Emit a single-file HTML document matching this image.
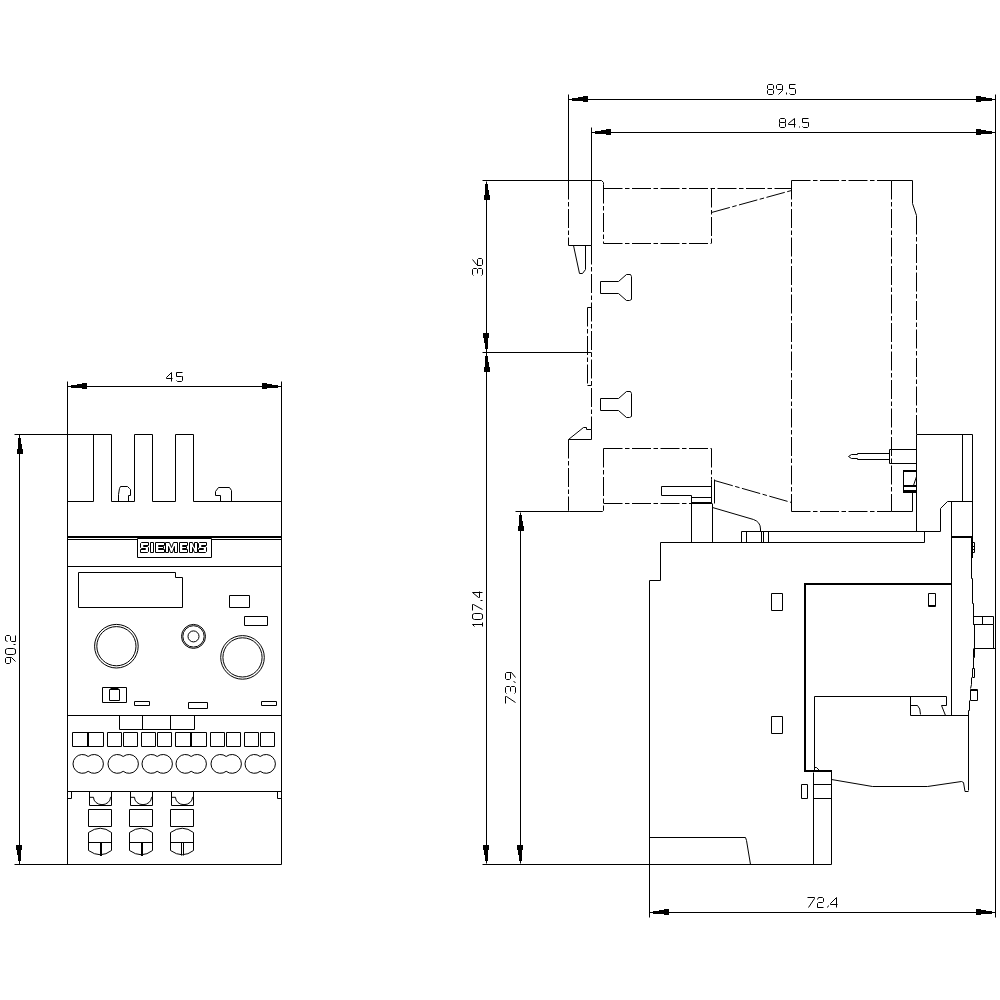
<!DOCTYPE html>
<html><head><meta charset="utf-8"><style>
html,body{margin:0;padding:0;background:#fff;}
svg{display:block;}
.s{fill:none;stroke:#000;stroke-width:1;}
.dd{fill:none;stroke:#000;stroke-width:1;stroke-dasharray:19 2.5 4.5 2.5;}
.f{fill:#000;stroke:none;}
.t{font-family:"Liberation Sans",sans-serif;fill:#000;}
.logo{font-family:"Liberation Sans",sans-serif;font-weight:bold;fill:#fff;stroke:#000;stroke-width:1;}
</style></head><body>
<svg width="1000" height="1000" viewBox="0 0 1000 1000">
<path class="s" d="M67.5 381.5 L67.5 864.5"/>
<path class="s" d="M281.5 381.5 L281.5 864.5"/>
<path class="s" d="M67.5 386.5 L281.5 386.5"/>
<path class="f" d="M71 385 L77 385 L77 384 L82 384 L82 383 L87 383 L87 389 L82 389 L82 388 L71 388 Z"/>
<path class="f" d="M278 385 L272 385 L272 384 L267 384 L267 383 L262 383 L262 389 L267 389 L267 388 L278 388 Z"/>
<path class="s" d="M171.50 381.50 L171.50 372.50 L166.50 377.50 L166.50 378.50 L172.50 378.50 M182.50 372.50 L176.50 372.50 L176.50 376.50 L181.50 376.50 L182.50 376.50 L182.50 380.50 L181.50 381.50 L177.50 381.50 L176.50 380.50"/>
<path class="s" d="M14.5 434.5 L111.5 434.5"/>
<path class="s" d="M14.5 864.5 L281.5 864.5"/>
<path class="s" d="M19.5 434.5 L19.5 864.5"/>
<path class="f" d="M21 438 L21 444 L22 444 L22 449 L23 449 L23 454 L17 454 L17 449 L18 449 L18 438 Z"/>
<path class="f" d="M18 861 L18 855 L17 855 L17 850 L16 850 L16 845 L22 845 L22 850 L21 850 L21 861 Z"/>
<path class="s" d="M9.50 657.50 L10.50 658.50 L10.50 662.50 L9.50 663.50 L6.50 663.50 L5.50 662.50 L5.50 658.50 L6.50 657.50 L11.50 657.50 L15.50 661.50 M5.50 653.50 L5.50 649.50 L7.50 648.50 L13.50 648.50 L15.50 649.50 L15.50 653.50 L13.50 654.50 L7.50 654.50 L5.50 653.50 M13.50 644.50 L15.50 644.50 M7.50 641.50 L5.50 640.50 L5.50 636.50 L6.50 635.50 L9.50 635.50 L10.50 636.50 L10.50 640.50 L11.50 641.50 L15.50 641.50 L15.50 635.50"/>
<path class="s" d="M93.5 434.5 L93.5 501.5"/>
<path class="s" d="M111.5 434.5 L111.5 501.5"/>
<path class="s" d="M134.5 434.5 L152.5 434.5"/>
<path class="s" d="M134.5 434.5 L134.5 501.5"/>
<path class="s" d="M152.5 434.5 L152.5 501.5"/>
<path class="s" d="M175.5 434.5 L193.5 434.5"/>
<path class="s" d="M175.5 434.5 L175.5 501.5"/>
<path class="s" d="M193.5 434.5 L193.5 501.5"/>
<path class="s" d="M67.5 501.5 L93.5 501.5"/>
<path class="s" d="M111.5 501.5 L134.5 501.5"/>
<path class="s" d="M152.5 501.5 L175.5 501.5"/>
<path class="s" d="M193.5 501.5 L281.5 501.5"/>
<path class="s" d="M118.5 501.5 L118.5 494.5 L119.5 488.5 L120.5 486.5 L127.5 486.5 L129.5 488.5 L130.5 489.5 L130.5 495.5 L128.5 495.5 L128.5 501.5"/>
<path class="s" d="M220.5 501.5 L220.5 495.5 L215.5 495.5 L215.5 491.5 L218.5 487.5 L229.5 487.5 L231.5 490.5 L231.5 501.5"/>
<rect x="67" y="536" width="215" height="2" fill="#000"/>
<path class="s" d="M67.5 539.5 L137.5 539.5"/>
<path class="s" d="M211.5 539.5 L281.5 539.5"/>
<path class="s" d="M137.5 538.5 L211.5 538.5 L211.5 557.5 L137.5 557.5 Z"/>
<path class="s" d="M141.5 542.5 L148.5 542.5 L148.5 545.5 L143.5 545.5 L143.5 546.5 L147.5 546.5 L148.5 547.5 L148.5 551.5 L147.5 552.5 L140.5 552.5 L140.5 549.5 L145.5 549.5 L145.5 548.5 L141.5 548.5 L140.5 547.5 L140.5 543.5 Z"/>
<path class="s" d="M199.5 542.5 L206.5 542.5 L206.5 545.5 L201.5 545.5 L201.5 546.5 L205.5 546.5 L206.5 547.5 L206.5 551.5 L205.5 552.5 L198.5 552.5 L198.5 549.5 L203.5 549.5 L203.5 548.5 L199.5 548.5 L198.5 547.5 L198.5 543.5 Z"/>
<path class="s" d="M150.5 542.5 L153.5 542.5 L153.5 552.5 L150.5 552.5 Z"/>
<path class="s" d="M155.5 542.5 L164.5 542.5 L164.5 545.5 L158.5 545.5 L158.5 546.5 L163.5 546.5 L163.5 548.5 L158.5 548.5 L158.5 549.5 L164.5 549.5 L164.5 552.5 L155.5 552.5 Z"/>
<path class="s" d="M179.5 542.5 L187.5 542.5 L187.5 545.5 L182.5 545.5 L182.5 546.5 L186.5 546.5 L186.5 548.5 L182.5 548.5 L182.5 549.5 L187.5 549.5 L187.5 552.5 L179.5 552.5 Z"/>
<path class="s" d="M165.5 542.5 L169.5 542.5 L171.5 547.5 L173.5 542.5 L177.5 542.5 L177.5 552.5 L174.5 552.5 L174.5 546.5 L172.5 552.5 L170.5 552.5 L168.5 546.5 L168.5 552.5 L165.5 552.5 Z"/>
<path class="s" d="M189.5 542.5 L192.5 542.5 L194.5 547.5 L194.5 542.5 L197.5 542.5 L197.5 552.5 L194.5 552.5 L192.5 547.5 L192.5 552.5 L189.5 552.5 Z"/>
<path class="s" d="M67.5 566.5 L281.5 566.5"/>
<path class="s" d="M78.5 572.5 L175.5 572.5 L175.5 577.5 L182.5 577.5 L182.5 607.5 L78.5 607.5 Z"/>
<path class="s" d="M229.5 595.5 L249.5 595.5 L249.5 607.5 L229.5 607.5 Z"/>
<path class="s" d="M244.5 616.5 L267.5 616.5 L267.5 625.5 L244.5 625.5 Z"/>
<circle class="s" cx="116.4" cy="646.2" r="21.8"/>
<circle class="s" cx="116.4" cy="646.2" r="19.6"/>
<circle class="s" cx="193.5" cy="636.4" r="12"/>
<circle class="s" cx="193.5" cy="636.4" r="10.7"/>
<circle class="s" cx="193.5" cy="636.4" r="5.5" stroke-width="2"/>
<circle class="s" cx="242.5" cy="657.4" r="21.8"/>
<circle class="s" cx="242.5" cy="657.4" r="19.6"/>
<path class="s" d="M102.5 687.5 L126.5 687.5 L126.5 702.5 L102.5 702.5 Z"/>
<path class="s" d="M109.5 689.5 L119.5 689.5 L119.5 700.5 L109.5 700.5 Z"/>
<path class="s" d="M110.5 688.5 L118.5 688.5"/>
<path class="s" d="M134.5 701.5 L149.5 701.5 L149.5 705.5 L134.5 705.5 Z"/>
<path class="s" d="M188.5 702.5 L207.5 702.5 L207.5 708.5 L188.5 708.5 Z"/>
<path class="s" d="M261.5 701.5 L276.5 701.5 L276.5 705.5 L261.5 705.5 Z"/>
<path class="s" d="M67.5 715.5 L281.5 715.5"/>
<path class="s" d="M119.5 715.5 L194.5 715.5 L194.5 729.5 L119.5 729.5 Z"/>
<path class="s" d="M142.5 715.5 L142.5 729.5"/>
<path class="s" d="M170.5 715.5 L170.5 729.5"/>
<path class="s" d="M72.5 732.5 L103.5 732.5 L103.5 746.5 L72.5 746.5 Z"/>
<rect x="87" y="732" width="2" height="15" fill="#000"/>
<path class="s" d="M107.5 732.5 L121.5 732.5 L121.5 746.5 L107.5 746.5 Z"/>
<path class="s" d="M123.5 732.5 L137.5 732.5 L137.5 746.5 L123.5 746.5 Z"/>
<path class="s" d="M141.5 732.5 L155.5 732.5 L155.5 746.5 L141.5 746.5 Z"/>
<path class="s" d="M157.5 732.5 L171.5 732.5 L171.5 746.5 L157.5 746.5 Z"/>
<path class="s" d="M175.5 732.5 L206.5 732.5 L206.5 746.5 L175.5 746.5 Z"/>
<rect x="190" y="732" width="2" height="15" fill="#000"/>
<path class="s" d="M210.5 732.5 L224.5 732.5 L224.5 746.5 L210.5 746.5 Z"/>
<path class="s" d="M226.5 732.5 L240.5 732.5 L240.5 746.5 L226.5 746.5 Z"/>
<path class="s" d="M244.5 732.5 L258.5 732.5 L258.5 746.5 L244.5 746.5 Z"/>
<path class="s" d="M260.5 732.5 L274.5 732.5 L274.5 746.5 L260.5 746.5 Z"/>
<path class="s" d="M88.2 756.5 A9.4 9.4 0 1 0 88.2 771.3 A9.4 9.4 0 1 0 88.2 756.5 Z"/>
<path class="s" d="M123.2 756.5 A9.4 9.4 0 1 0 123.2 771.3 A9.4 9.4 0 1 0 123.2 756.5 Z"/>
<path class="s" d="M157.2 756.5 A9.4 9.4 0 1 0 157.2 771.3 A9.4 9.4 0 1 0 157.2 756.5 Z"/>
<path class="s" d="M191.2 756.5 A9.4 9.4 0 1 0 191.2 771.3 A9.4 9.4 0 1 0 191.2 756.5 Z"/>
<path class="s" d="M226.2 756.5 A9.4 9.4 0 1 0 226.2 771.3 A9.4 9.4 0 1 0 226.2 756.5 Z"/>
<path class="s" d="M260.2 756.5 A9.4 9.4 0 1 0 260.2 771.3 A9.4 9.4 0 1 0 260.2 756.5 Z"/>
<path class="s" d="M67.5 791.5 L281.5 791.5"/>
<path class="s" d="M67.5 791.5 L71.5 791.5 L71.5 798.5 L67.5 798.5 Z"/>
<path class="s" d="M277.5 791.5 L281.5 791.5 L281.5 798.5 L277.5 798.5 Z"/>
<path class="s" d="M89.5 791.5 L89.5 805.5 L111.5 805.5 L111.5 791.5"/>
<path class="s" d="M89.5 797.3 H93.5 A7.5 6.5 0 0 0 110.5 797.3 H111.5"/>
<path class="s" d="M88.5 809.5 L111.5 809.5 L111.5 826.5 L88.5 826.5 Z"/>
<path class="s" d="M88.5 832.5 Q100.5 824 111.5 832.5 V850.5 Q100.5 859 88.5 850.5 Z M88.5 842.5 H111.5"/>
<rect x="100" y="842" width="2" height="14" fill="#000"/>
<path class="s" d="M130.5 791.5 L130.5 805.5 L152.5 805.5 L152.5 791.5"/>
<path class="s" d="M130.5 797.3 H134.5 A7.5 6.5 0 0 0 151.5 797.3 H152.5"/>
<path class="s" d="M129.5 809.5 L152.5 809.5 L152.5 826.5 L129.5 826.5 Z"/>
<path class="s" d="M129.5 832.5 Q141.5 824 152.5 832.5 V850.5 Q141.5 859 129.5 850.5 Z M129.5 842.5 H152.5"/>
<rect x="141" y="842" width="2" height="14" fill="#000"/>
<path class="s" d="M171.5 791.5 L171.5 805.5 L193.5 805.5 L193.5 791.5"/>
<path class="s" d="M171.5 797.3 H175.5 A7.5 6.5 0 0 0 192.5 797.3 H193.5"/>
<path class="s" d="M170.5 809.5 L193.5 809.5 L193.5 826.5 L170.5 826.5 Z"/>
<path class="s" d="M170.5 832.5 Q182.5 824 193.5 832.5 V850.5 Q182.5 859 170.5 850.5 Z M170.5 842.5 H193.5"/>
<path class="s" d="M181.5 842.5 L181.5 855.5"/>
<path class="s" d="M183.5 842.5 L183.5 855.5"/>
<path class="s" d="M568.5 94.5 L568.5 180.5"/>
<path class="s" d="M995.5 94.5 L995.5 917.5"/>
<path class="s" d="M568.5 99.5 L995.5 99.5"/>
<path class="f" d="M572 98 L578 98 L578 97 L583 97 L583 96 L588 96 L588 102 L583 102 L583 101 L572 101 Z"/>
<path class="f" d="M992 98 L986 98 L986 97 L981 97 L981 96 L976 96 L976 102 L981 102 L981 101 L992 101 Z"/>
<path class="s" d="M768.50 84.50 L772.50 84.50 L773.50 85.50 L773.50 88.50 L772.50 89.50 L768.50 89.50 L767.50 88.50 L767.50 85.50 L768.50 84.50 M768.50 89.50 L767.50 90.50 L767.50 93.50 L768.50 94.50 L772.50 94.50 L773.50 93.50 L773.50 90.50 L772.50 89.50 M782.50 88.50 L781.50 89.50 L777.50 89.50 L776.50 88.50 L776.50 85.50 L777.50 84.50 L781.50 84.50 L782.50 85.50 L782.50 90.50 L778.50 94.50 M786.50 92.50 L786.50 94.50 M795.50 84.50 L789.50 84.50 L789.50 88.50 L794.50 88.50 L795.50 89.50 L795.50 93.50 L794.50 94.50 L790.50 94.50 L789.50 93.50"/>
<path class="s" d="M591.5 127.5 L591.5 245.5"/>
<path class="s" d="M591.5 132.5 L995.5 132.5"/>
<path class="f" d="M595 131 L601 131 L601 130 L606 130 L606 129 L611 129 L611 135 L606 135 L606 134 L595 134 Z"/>
<path class="f" d="M992 131 L986 131 L986 130 L981 130 L981 129 L976 129 L976 135 L981 135 L981 134 L992 134 Z"/>
<path class="s" d="M780.50 118.50 L784.50 118.50 L785.50 119.50 L785.50 122.50 L784.50 122.50 L780.50 122.50 L779.50 122.50 L779.50 119.50 L780.50 118.50 M780.50 122.50 L779.50 123.50 L779.50 126.50 L780.50 127.50 L784.50 127.50 L785.50 126.50 L785.50 123.50 L784.50 122.50 M794.50 127.50 L794.50 118.50 L788.50 123.50 L788.50 124.50 L795.50 124.50 M799.50 126.50 L799.50 127.50 M808.50 118.50 L802.50 118.50 L802.50 122.50 L807.50 122.50 L808.50 122.50 L808.50 126.50 L807.50 127.50 L803.50 127.50 L802.50 126.50"/>
<path class="s" d="M482.5 180.5 L601.5 180.5 L603.5 182.5 L603.5 184.5"/>
<path class="s" d="M482.5 352.5 L591.5 352.5"/>
<path class="s" d="M486.5 181.5 L486.5 863.5"/>
<path class="f" d="M488 184 L488 190 L489 190 L489 195 L490 195 L490 200 L484 200 L484 195 L485 195 L485 184 Z"/>
<path class="f" d="M485 349 L485 343 L484 343 L484 338 L483 338 L483 333 L489 333 L489 338 L488 338 L488 349 Z"/>
<path class="f" d="M488 356 L488 362 L489 362 L489 367 L490 367 L490 372 L484 372 L484 367 L485 367 L485 356 Z"/>
<path class="f" d="M485 861 L485 855 L484 855 L484 850 L483 850 L483 845 L489 845 L489 850 L488 850 L488 861 Z"/>
<path class="s" d="M473.50 275.50 L472.50 274.50 L472.50 269.50 L473.50 268.50 L476.50 268.50 L477.50 269.50 L477.50 273.50 M477.50 269.50 L478.50 268.50 L481.50 268.50 L482.50 269.50 L482.50 274.50 L481.50 275.50 M472.50 259.50 L476.50 264.50 L477.50 265.50 L481.50 265.50 L482.50 264.50 L482.50 259.50 L481.50 258.50 L478.50 258.50 L477.50 259.50 L477.50 265.50"/>
<path class="s" d="M474.50 626.50 L472.50 624.50 L482.50 624.50 M482.50 626.50 L482.50 622.50 M472.50 618.50 L472.50 614.50 L474.50 613.50 L480.50 613.50 L482.50 614.50 L482.50 618.50 L480.50 619.50 L474.50 619.50 L472.50 618.50 M472.50 610.50 L472.50 604.50 L473.50 604.50 L482.50 609.50 M480.50 600.50 L482.50 600.50 M482.50 592.50 L472.50 592.50 L478.50 597.50 L479.50 597.50 L479.50 591.50"/>
<path class="s" d="M515.5 511.5 L569.5 511.5"/>
<path class="s" d="M520.5 512.5 L520.5 863.5"/>
<path class="f" d="M522 515 L522 521 L523 521 L523 526 L524 526 L524 531 L518 531 L518 526 L519 526 L519 515 Z"/>
<path class="f" d="M519 861 L519 855 L518 855 L518 850 L517 850 L517 845 L523 845 L523 850 L522 850 L522 861 Z"/>
<path class="s" d="M505.50 703.50 L505.50 696.50 L506.50 696.50 L515.50 702.50 M506.50 693.50 L505.50 692.50 L505.50 687.50 L506.50 686.50 L509.50 686.50 L510.50 687.50 L510.50 691.50 M510.50 687.50 L511.50 686.50 L514.50 686.50 L515.50 687.50 L515.50 692.50 L514.50 693.50 M513.50 681.50 L515.50 682.50 M509.50 672.50 L510.50 673.50 L510.50 678.50 L509.50 679.50 L506.50 679.50 L505.50 678.50 L505.50 673.50 L506.50 672.50 L511.50 672.50 L515.50 677.50"/>
<path class="s" d="M482.5 864.5 L831.5 864.5"/>
<path class="s" d="M649.5 837.5 L745.5 837.5 L746.5 840.5 L750.5 864.5"/>
<path class="s" d="M649.5 580.5 L649.5 917.5"/>
<path class="s" d="M649.5 912.5 L995.5 912.5"/>
<path class="f" d="M653 911 L659 911 L659 910 L664 910 L664 909 L669 909 L669 915 L664 915 L664 914 L653 914 Z"/>
<path class="f" d="M992 911 L986 911 L986 910 L981 910 L981 909 L976 909 L976 915 L981 915 L981 914 L992 914 Z"/>
<path class="s" d="M807.50 897.50 L814.50 897.50 L814.50 898.50 L808.50 907.50 M817.50 899.50 L818.50 897.50 L822.50 897.50 L823.50 898.50 L823.50 901.50 L822.50 902.50 L818.50 902.50 L817.50 903.50 L817.50 907.50 L823.50 907.50 M828.50 905.50 L827.50 907.50 M836.50 907.50 L836.50 897.50 L830.50 903.50 L830.50 904.50 L837.50 904.50"/>
<path class="dd" d="M568.5 180.5 L568.5 245.5"/>
<path class="s" d="M568.5 245.5 L591.5 245.5"/>
<path class="dd" d="M591.5 245.5 L591.5 429.5"/>
<path class="s" d="M573.5 245.5 L579.5 273.5 L582.5 273.5 L585.5 269.5 L585.5 245.5"/>
<path class="dd" d="M603.5 184.5 L603.5 243.5"/>
<path class="dd" d="M603.5 188.5 L791.5 188.5"/>
<path class="dd" d="M603.5 243.5 L711.5 243.5"/>
<path class="dd" d="M711.5 188.5 L711.5 243.5"/>
<path class="dd" d="M711.5 212.5 L791.5 190.5"/>
<path class="dd" d="M791.5 180.5 L891.5 180.5"/>
<path class="s" d="M891.5 180.5 L912.5 180.5"/>
<path class="dd" d="M791.5 180.5 L791.5 511.5"/>
<path class="dd" d="M891.5 180.5 L891.5 511.5"/>
<path class="s" d="M912.5 180.5 L912.5 203.5 L916.5 215.5"/>
<path class="dd" d="M916.5 215.5 L916.5 434.5"/>
<path class="s" d="M916.5 434.5 L916.5 531.5"/>
<path class="dd" d="M791.5 511.5 L891.5 511.5"/>
<path class="s" d="M891.5 511.5 L912.5 511.5"/>
<path class="s" d="M912.5 492.5 L912.5 511.5"/>
<path class="s" d="M600.5 281.5 L618.5 281.5 L626.5 274.5 L630.5 274.5 L631.5 276.5 L631.5 299.5 L629.5 300.5 L626.5 300.5 L618.5 293.5 L600.5 293.5 Z"/>
<path class="s" d="M600.5 398.5 L618.5 398.5 L626.5 391.5 L630.5 391.5 L631.5 393.5 L631.5 416.5 L629.5 417.5 L626.5 417.5 L618.5 410.5 L600.5 410.5 Z"/>
<path class="dd" d="M587.5 307.5 L587.5 385.5"/>
<path class="s" d="M587.5 307.5 L591.5 307.5"/>
<path class="s" d="M587.5 385.5 L591.5 385.5"/>
<path class="s" d="M591.5 429.5 L591.5 439.5 L568.5 439.5 L583.5 427.5 L586.5 427.5 L586.5 429.5 L591.5 429.5"/>
<path class="dd" d="M568.5 439.5 L568.5 510.5"/>
<path class="s" d="M568.5 510.5 L569.5 511.5 L602.5 511.5 L603.5 510.5"/>
<path class="dd" d="M603.5 448.5 L603.5 510.5"/>
<path class="dd" d="M603.5 448.5 L711.5 448.5"/>
<path class="dd" d="M711.5 448.5 L711.5 479.5"/>
<path class="s" d="M711.5 479.5 L711.5 503.5"/>
<path class="s" d="M714.5 479.5 L714.5 503.5"/>
<path class="dd" d="M603.5 503.5 L691.5 503.5"/>
<path class="dd" d="M714.5 480.5 L791.5 502.5"/>
<path class="s" d="M691.5 495.5 L661.5 495.5 L661.5 486.5 L711.5 486.5"/>
<path class="s" d="M691.5 497.5 L711.5 497.5"/>
<rect x="691" y="502" width="21" height="2" fill="#000"/>
<path class="s" d="M691.5 495.5 L691.5 542.5"/>
<path class="s" d="M712.5 503.5 L712.5 542.5"/>
<path class="s" d="M712.5 507.5 L753.5 519.5 Q760.5 522 760.5 529 V531.5"/>
<path class="s" d="M741.5 531.5 L940.5 531.5"/>
<path class="s" d="M660.5 542.5 L924.5 542.5"/>
<path class="s" d="M924.5 531.5 L924.5 542.5"/>
<path class="s" d="M741.5 531.5 L741.5 542.5"/>
<path class="s" d="M746.5 531.5 L746.5 542.5"/>
<path class="s" d="M761.5 531.5 L761.5 542.5"/>
<path class="s" d="M763.5 531.5 L763.5 542.5"/>
<path class="s" d="M768.5 531.5 L768.5 542.5"/>
<path class="s" d="M660.5 542.5 L660.5 580.5"/>
<path class="s" d="M649.5 580.5 L660.5 580.5"/>
<path class="s" d="M916.5 434.5 L972.5 434.5"/>
<path class="s" d="M962.5 434.5 L962.5 501.5"/>
<path class="s" d="M947.5 501.5 L972.5 501.5"/>
<path class="s" d="M947.5 501.5 L940.5 508.5 L940.5 531.5"/>
<path class="s" d="M951.5 501.5 L951.5 715.5"/>
<rect x="951" y="536" width="22" height="2" fill="#000"/>
<path class="s" d="M972.5 434.5 L972.5 537.5"/>
<path class="s" d="M889.5 449.5 L916.5 449.5 L916.5 463.5 L889.5 463.5 Z"/>
<path class="s" d="M889.5 453.5 L857.5 453.5 L857.5 454.5 L851.5 454.5 L848.5 456.5 L851.5 458.5 L857.5 458.5 L857.5 459.5 L889.5 459.5"/>
<rect x="903" y="470" width="14" height="2" fill="#000"/>
<rect x="903" y="485" width="14" height="2" fill="#000"/>
<rect x="903" y="490" width="14" height="3" fill="#000"/>
<path class="s" d="M903.5 470.5 L903.5 492.5"/>
<path class="s" d="M916.5 476.5 L913.5 485.5"/>
<rect x="804" y="583" width="148" height="2" fill="#000"/>
<rect x="804" y="583" width="2" height="189" fill="#000"/>
<rect x="804" y="770" width="28" height="2" fill="#000"/>
<path class="s" d="M928.5 593.5 L935.5 593.5 L935.5 606.5 L928.5 606.5 Z"/>
<path class="s" d="M928.5 605.5 L935.5 605.5"/>
<path class="s" d="M771.5 593.5 L782.5 593.5 L782.5 610.5 L771.5 610.5 Z"/>
<path class="s" d="M771.5 716.5 L782.5 716.5 L782.5 733.5 L771.5 733.5 Z"/>
<path class="s" d="M814.5 696.5 L814.5 770.5"/>
<path class="s" d="M813.5 772.5 L813.5 864.5"/>
<path class="s" d="M814.5 696.5 L946.5 696.5"/>
<path class="s" d="M814.5 767.5 L816.5 767.5 L819.5 770.5"/>
<path class="s" d="M946.5 696.5 L946.5 705.5 L941.5 705.5 L945.5 715.5"/>
<path class="s" d="M910.5 696.5 L910.5 715.5 L968.5 715.5"/>
<path class="s" d="M910.5 705.5 H917.5 Q920.5 708 920.5 714.5"/>
<path class="s" d="M831.5 771.5 L831.5 864.5"/>
<path class="s" d="M813.5 784.5 L831.5 784.5"/>
<path class="s" d="M813.5 798.5 L831.5 798.5"/>
<path class="s" d="M801.5 784.5 L807.5 784.5 L807.5 798.5 L801.5 798.5 Z"/>
<path class="s" d="M831.5 779.5 L872.5 786.5 H927.5 L961.5 781.5 L963.5 782.5 L965 791.5 H968.5"/>
<path class="s" d="M971.5 537.5 L971.5 578.5 L972.5 578.5 L972.5 603.5 L973.5 603.5 L973.5 624.5 L974.5 624.5 L974.5 657.5 L973.5 657.5 L973.5 668.5"/>
<path class="s" d="M973.5 648.5 L973.5 657.5"/>
<path class="s" d="M971.5 677.5 L971.5 684.5 L970.5 688.5"/>
<path class="s" d="M969.5 700.5 L969.5 710.5 L968.5 710.5 L968.5 790.5"/>
<path class="s" d="M973.5 616.5 L993.5 616.5 L993.5 624.5 L973.5 624.5 Z"/>
<path class="s" d="M982.5 616.5 L982.5 624.5"/>
<path class="s" d="M993.5 624.5 L993.5 648.5"/>
<path class="s" d="M974.5 648.5 L995.5 648.5"/>
<path class="s" d="M972.5 542.5 L974.5 542.5 L974.5 552.5 L972.5 552.5 Z"/>
<path class="s" d="M972.5 546.5 L974.5 546.5"/>
<path class="s" d="M972.5 549.5 L974.5 549.5"/>
<rect x="971" y="537" width="2" height="21" fill="#000"/>
<path class="s" d="M972.5 668.5 L974.5 668.5 L974.5 677.5 L972.5 677.5 Z"/>
<path class="s" d="M970.5 689.5 L977.5 689.5 L977.5 700.5 L970.5 700.5 Z"/>
<path class="s" d="M970.5 690.5 L977.5 690.5"/>
</svg></body></html>
